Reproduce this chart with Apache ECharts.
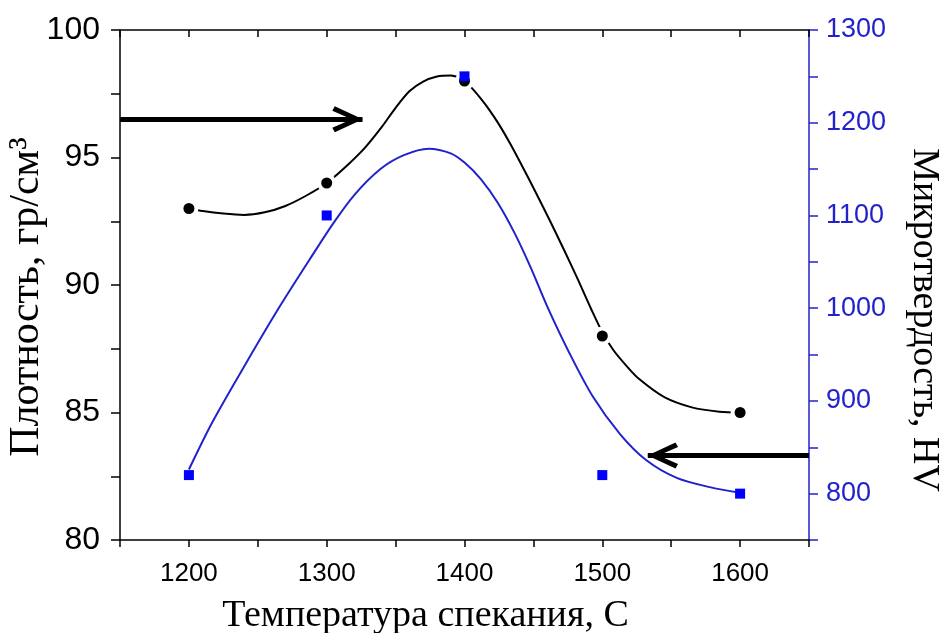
<!DOCTYPE html>
<html>
<head>
<meta charset="utf-8">
<title>Плотность и микротвердость</title>
<script src="https://cdn.jsdelivr.net/npm/echarts@6/dist/echarts.min.js"></script>
<style>
  html, body { margin: 0; padding: 0; background: #fff; }
  #chart { width: 939px; height: 633px; }
</style>
</head>
<body>
<div id="chart"></div>
<script>
// measured points
const temps = [1200, 1300, 1400, 1500, 1600];
const density = [93, 94, 98, 88, 85];           // гр/см3
const hardness = [820, 1100, 1250, 820, 800];   // HV

// curves: [temperature, value]
const densityCurve = [
  [1200, 93.0], [1210, 92.9], [1225, 92.8], [1240, 92.75], [1255, 92.85],
  [1270, 93.1], [1285, 93.5], [1300, 94.0], [1315, 94.7], [1328, 95.4],
  [1340, 96.2], [1350, 96.95], [1360, 97.6], [1370, 97.98], [1380, 98.18],
  [1390, 98.22], [1397, 98.1], [1404, 97.8], [1412, 97.3], [1418, 96.87],
  [1425, 96.3], [1433, 95.56], [1442, 94.65], [1452, 93.6], [1462, 92.52],
  [1472, 91.4], [1482, 90.25], [1492, 89.05], [1500, 88.15], [1508, 87.45],
  [1518, 86.8], [1527, 86.3], [1545, 85.6], [1565, 85.2], [1585, 85.03],
  [1600, 85.0]
];
const hardnessCurve = [
  [1200, 826], [1217, 877], [1242, 942], [1266, 1002], [1290, 1058],
  [1305, 1092], [1320, 1122], [1339, 1150], [1356, 1165], [1374, 1172],
  [1390, 1167], [1400, 1157], [1412, 1139], [1424, 1114], [1436, 1082],
  [1448, 1044], [1460, 1002], [1476, 952], [1493, 905], [1513, 864],
  [1532, 836], [1554, 817], [1578, 807], [1600, 801]
];

// arrows pointing at each curve's axis
const densityArrow = [[1150, 96.5], [1326, 96.5]];
const hardnessArrow = [[1650, 841], [1533, 841]];

const blue = '#2222cc';
// open arrow head, tip in the middle of the box
const arrowHead = 'path://M12,0 L12.2,0 L12.1,0.2 Z M12,30 L25,58 L20.5,60.5 L12,41 L3.5,60.5 L-1,58 Z';

const chart = echarts.init(document.getElementById('chart'), null, { renderer: 'canvas' });

const labelFont = 'Liberation Sans, Arial, sans-serif';
const titleFont = 'Liberation Serif, Times New Roman, serif';

const arrowLine = (pts) => ({
  silent: true,
  symbol: ['none', arrowHead],
  symbolSize: 24,
  label: { show: false },
  lineStyle: { type: 'solid', color: '#000', width: 5, opacity: 1 },
  itemStyle: { color: '#000' },
  emphasis: { disabled: true },
  animation: false,
  data: [[
    { coord: pts[0], symbol: 'none' },
    { coord: pts[1], symbol: arrowHead, symbolSize: [26, 60.5] }
  ]]
});

const option = {
  animation: false,
  grid: { left: 120, right: 130, top: 30, bottom: 93, outerBoundsMode: 'none', containLabel: false },
  xAxis: [
    {
      type: 'value',
      position: 'bottom',
      min: 1150,
      max: 1650,
      interval: 50,
      axisLine: { lineStyle: { color: '#000', width: 1.5 } },
      axisTick: { length: 7, lineStyle: { color: '#000', width: 1.5 } },
      axisLabel: {
        margin: 21,
        fontSize: 26,
        fontFamily: labelFont,
        color: '#000',
        formatter: v => (v % 100 === 0 && v > 1150 && v < 1650) ? v : ''
      },
      splitLine: { show: false },
      name: 'Температура спекания, С',
      nameLocation: 'middle',
      nameGap: 57,
      nameMoveOverlap: false,
      nameTextStyle: { fontFamily: titleFont, fontSize: 38, color: '#000', padding: [0, 78, 0, 0] }
    },
    {
      type: 'value',
      position: 'top',
      min: 1150,
      max: 1650,
      interval: 50,
      axisLine: { lineStyle: { color: '#000', width: 1.5 } },
      axisTick: { inside: true, length: 7, lineStyle: { color: '#000', width: 1.5 } },
      axisLabel: { show: false },
      splitLine: { show: false }
    }
  ],
  yAxis: [
    {
      type: 'value',
      position: 'left',
      min: 80,
      max: 100,
      interval: 2.5,
      axisLine: { show: true, lineStyle: { color: '#000', width: 1.5 } },
      axisTick: { show: true, length: 9, lineStyle: { color: '#000', width: 1.5 } },
      axisLabel: {
        margin: 20,
        fontSize: 32,
        fontFamily: labelFont,
        color: '#000',
        formatter: v => v % 5 === 0 ? v : ''
      },
      splitLine: { show: false },
      name: 'Плотность, гр/см³',
      nameLocation: 'middle',
      nameRotate: 90,
      nameGap: 72,
      nameMoveOverlap: false,
      nameTextStyle: { fontFamily: titleFont, fontSize: 42, color: '#000', padding: [0, 24, 0, 0] }
    },
    {
      type: 'value',
      position: 'right',
      min: 750,
      max: 1300,
      interval: 50,
      alignTicks: false,
      axisLine: { show: true, lineStyle: { color: blue, width: 1.5 } },
      axisTick: { show: true, length: 9, lineStyle: { color: blue, width: 1.5 } },
      axisLabel: {
        margin: 17,
        fontSize: 27,
        fontFamily: labelFont,
        color: blue,
        formatter: v => (v % 100 === 0) ? v : ''
      },
      splitLine: { show: false },
      name: 'Микротвердость, HV',
      nameLocation: 'middle',
      nameRotate: -90,
      nameGap: 96,
      nameMoveOverlap: false,
      nameTextStyle: { fontFamily: titleFont, fontSize: 38, color: '#000', padding: [0, 0, 0, 70] }
    }
  ],
  series: [
    {
      name: 'density curve',
      type: 'line',
      yAxisIndex: 0,
      data: densityCurve,
      smooth: 0.3,
      showSymbol: false,
      lineStyle: { color: '#000', width: 2 },
      markLine: arrowLine(densityArrow),
      z: 2
    },
    {
      name: 'hardness curve',
      type: 'line',
      yAxisIndex: 1,
      data: hardnessCurve,
      smooth: 0.3,
      showSymbol: false,
      lineStyle: { color: blue, width: 2 },
      markLine: arrowLine(hardnessArrow),
      z: 2
    },
    {
      // white halo so the curve stops short of each point
      name: 'density gap',
      type: 'scatter',
      yAxisIndex: 0,
      data: temps.map((t, i) => [t, density[i]]),
      symbol: 'circle',
      symbolSize: 19,
      itemStyle: { color: '#fff', opacity: 1 },
      silent: true,
      z: 3
    },
    {
      name: 'density',
      type: 'scatter',
      yAxisIndex: 0,
      data: temps.map((t, i) => [t, density[i]]),
      symbol: 'circle',
      symbolSize: 11,
      itemStyle: { color: '#000', opacity: 1 },
      z: 4
    },
    {
      name: 'hardness',
      type: 'scatter',
      yAxisIndex: 1,
      data: temps.map((t, i) => [t, hardness[i]]),
      symbol: 'rect',
      symbolSize: 10,
      itemStyle: { color: '#0000ff', opacity: 1 },
      z: 5
    }
  ]
};

chart.setOption(option);
</script>
</body>
</html>
